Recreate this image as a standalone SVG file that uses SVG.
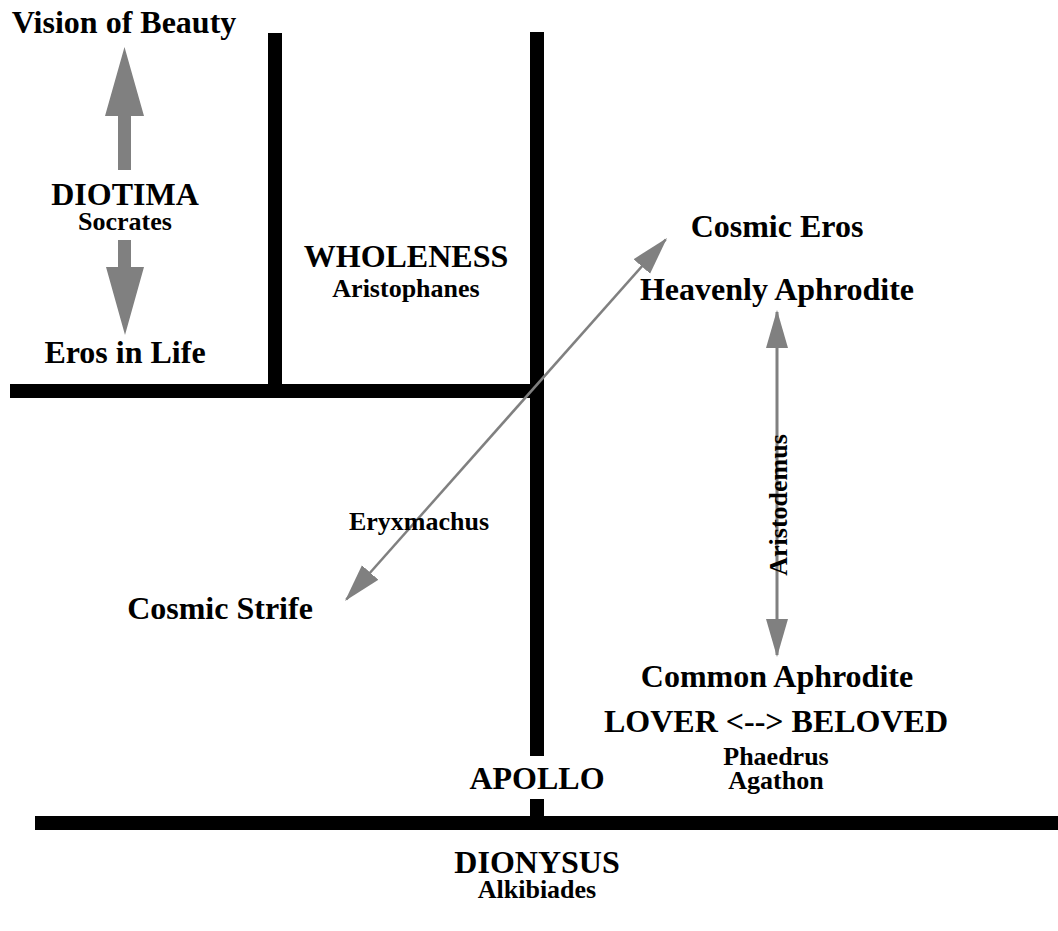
<svg xmlns="http://www.w3.org/2000/svg" width="1058" height="931" viewBox="0 0 1058 931">
<style>
text{font-family:'Liberation Serif','Times New Roman',Tinos,Times,serif;font-weight:700;fill:#000;text-anchor:middle}
.big{font-size:32px}
.small{font-size:26px}
.wall{fill:#000}
.block{fill:#808080}
.conn{stroke:#808080;fill:none}
</style>
<defs>
<marker id="head" markerUnits="userSpaceOnUse" markerWidth="44" markerHeight="30" viewBox="0 -15 44 30" refX="36" refY="0" orient="auto-start-reverse">
<path d="M0,-11 L38,0 L0,11 Z" fill="#808080"/>
</marker>
</defs>
<rect width="1058" height="931" fill="#fff"/>
<g id="dividers">
<rect class="wall" x="268" y="33" width="14" height="358"/>
<rect class="wall" x="530" y="32" width="14" height="724"/>
<rect class="wall" x="530" y="799" width="14" height="25"/>
<rect class="wall" x="10" y="384" width="534" height="14"/>
<rect class="wall" x="35" y="816" width="1023" height="14"/>
</g>
<g id="connectors">
<polygon class="block" points="124.5,47 144,116 131,116 131,170 118,170 118,116 105,116"/>
<polygon class="block" points="118,240 131,240 131,267 144,267 125,335 106,267 118,267"/>
<line class="conn" stroke-width="2.5" x1="346.3" y1="599.5" x2="665.7" y2="239.5" marker-start="url(#head)" marker-end="url(#head)"/>
<line class="conn" stroke-width="3" x1="777" y1="312" x2="777" y2="655" marker-start="url(#head)" marker-end="url(#head)"/>
</g>
<g id="vision"><text class="big" x="124" y="33">Vision of Beauty</text></g>
<g id="diotima"><text class="big" x="125" y="205">DIOTIMA</text><text class="small" x="125" y="230">Socrates</text></g>
<g id="eros-life"><text class="big" x="125" y="363">Eros in Life</text></g>
<g id="wholeness"><text class="big" x="406" y="267">WHOLENESS</text><text class="small" x="406" y="297">Aristophanes</text></g>
<g id="cosmic-eros"><text class="big" x="777" y="237">Cosmic Eros</text></g>
<g id="heavenly"><text class="big" x="777" y="300">Heavenly Aphrodite</text></g>
<g id="aristodemus"><text class="small" transform="translate(787,505) rotate(-90)" x="0" y="0">Aristodemus</text></g>
<g id="eryxmachus"><text class="small" x="419" y="530">Eryxmachus</text></g>
<g id="cosmic-strife"><text class="big" x="220" y="619">Cosmic Strife</text></g>
<g id="common"><text class="big" x="777" y="687">Common Aphrodite</text></g>
<g id="lover"><text class="big" x="776" y="732">LOVER &lt;--&gt; BELOVED</text><text class="small" x="776" y="765">Phaedrus</text><text class="small" x="776" y="789">Agathon</text></g>
<g id="apollo"><text class="big" x="537" y="789">APOLLO</text></g>
<g id="dionysus"><text class="big" x="537" y="873">DIONYSUS</text><text class="small" x="537" y="898">Alkibiades</text></g>
</svg>
